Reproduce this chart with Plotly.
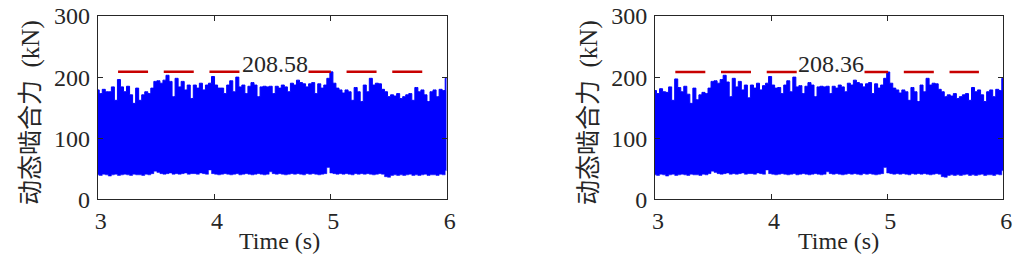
import numpy as np
import plotly.graph_objects as go

# ---------------- data ----------------
T_START, T_END = 3.0, 6.0
X_TICKS = [3, 4, 5, 6]
Y_TICKS = [0, 100, 200, 300]

# upper envelope (local peaks) of the dynamic meshing force, kN
PEAKS_L = [179, 173, 180, 176, 176, 184, 162, 196, 184, 176, 185, 171, 157, 182, 162, 171, 176, 173, 182, 193,
           194, 190, 195, 203, 193, 168, 198, 184, 193, 179, 187, 165, 187, 182, 190, 179, 187, 190, 201,
           187, 182, 182, 173, 187, 194, 176, 200, 184, 187, 173, 185, 191, 187, 168, 184, 185, 184, 185, 173,
           185, 182, 187, 184, 176, 190, 187, 195, 191, 189, 184, 189, 191, 173, 189, 182, 187, 198, 208.58,
           190, 182, 179, 174, 179, 176, 162, 183, 176, 160, 187, 176, 198, 187, 190, 189, 180, 176, 168, 171,
           169, 173, 165, 168, 171, 173, 162, 183, 176, 179, 171, 160, 176, 179, 168, 180, 178, 198]
# lower envelope (local troughs), kN
TROUGHS_L = [40, 39, 41, 40, 38, 40, 41, 39, 40, 41, 40, 39, 41, 40, 40, 39, 41, 40, 42, 46,
             44, 42, 41, 42, 43, 41, 42, 41, 42, 43, 41, 42, 42, 41, 43, 42, 41, 48,
             42, 41, 40, 41, 42, 41, 40, 41, 42, 40, 41, 42, 41, 40, 41, 42, 41, 40, 41, 45,
             42, 41, 42, 41, 40, 41, 42, 41, 42, 41, 40, 42, 41, 42, 41, 40, 41, 42, 52,
             43, 42, 41, 42, 41, 42, 41, 40, 42, 41, 42, 41, 42, 41, 40, 41, 42, 41, 37,
             36, 39, 40, 39, 40, 39, 40, 41, 39, 40, 39, 40, 41, 39, 40, 40, 39, 41, 40, 47]

PEAKS_R = [178, 173, 181, 176, 175, 184, 162, 197, 183, 176, 185, 172, 157, 182, 163, 171, 175, 173, 182, 193,
           194, 190, 196, 203, 192, 168, 198, 184, 193, 179, 187, 166, 187, 182, 190, 179, 186, 190, 201,
           187, 182, 183, 173, 187, 194, 176, 200, 184, 186, 173, 185, 191, 187, 168, 184, 185, 184, 185, 173,
           185, 182, 187, 184, 176, 190, 187, 195, 191, 189, 184, 189, 191, 173, 189, 182, 187, 198, 208.36,
           190, 182, 179, 174, 179, 176, 162, 183, 176, 160, 187, 176, 198, 187, 190, 189, 180, 176, 168, 171,
           169, 173, 165, 168, 171, 173, 162, 183, 176, 179, 171, 160, 176, 179, 168, 180, 178, 198]
TROUGHS_R = [40, 39, 41, 40, 38, 40, 41, 39, 40, 41, 40, 39, 41, 40, 40, 39, 41, 40, 42, 46,
             44, 42, 41, 42, 43, 41, 42, 41, 42, 43, 41, 42, 42, 41, 43, 42, 41, 48,
             42, 41, 40, 41, 42, 41, 40, 41, 42, 40, 41, 42, 41, 40, 41, 42, 41, 40, 41, 45,
             42, 41, 42, 41, 40, 41, 42, 41, 42, 41, 40, 42, 41, 42, 41, 40, 41, 42, 52,
             43, 42, 41, 42, 41, 42, 41, 40, 42, 41, 42, 41, 42, 41, 40, 41, 42, 41, 37,
             36, 39, 40, 39, 40, 39, 40, 41, 39, 40, 39, 40, 41, 39, 40, 40, 39, 41, 40, 47]

MAX_L = 208.58
MAX_R = 208.36
MAX_LABELS = ["208.58", "208.36"]
MAX_LINE_T = [3.175, 5.79]   # extent of the dashed max line
MAX_LABEL_T = 4.52           # label centre

X_TITLE = "Time (s)"
Y_TITLE_CN = "动态啮合力"
Y_TITLE_UNIT = "(kN)"

# ---------------- figure ----------------
SERIF = "Liberation Serif"
CJK = "Noto Sans CJK SC"
TXT = "#262626"
BLUE = "#0000FF"
RED = "#C80000"
W, H = 1024, 263

y_title = (f"<span style='font-family:{CJK}'>{Y_TITLE_CN}</span>"
           f"<span style='font-family:{SERIF}'>\u00a0\u00a0{Y_TITLE_UNIT}</span>")

fig = go.Figure()
panels = [(PEAKS_L, TROUGHS_L, MAX_L, "x", "y", 28, 279),
          (PEAKS_R, TROUGHS_R, MAX_R, "x2", "y2", 586, 838)]
for i, (pk, tr, mx, xa, ya, ytitle_px, xtitle_px) in enumerate(panels):
    t = np.linspace(T_START, T_END, len(pk))
    fig.add_trace(go.Scatter(x=t, y=tr, mode="lines", line=dict(color=BLUE, width=0.5, shape="hvh"),
                             xaxis=xa, yaxis=ya, showlegend=False, hoverinfo="skip"))
    fig.add_trace(go.Scatter(x=t, y=pk, mode="lines", line=dict(color=BLUE, width=1, shape="hvh"),
                             fill="tonexty", fillcolor=BLUE,
                             xaxis=xa, yaxis=ya, showlegend=False, hoverinfo="skip"))
    fig.add_trace(go.Scatter(x=MAX_LINE_T, y=[mx, mx], mode="lines",
                             line=dict(color=RED, width=2.5, dash="30px,15.7px"),
                             xaxis=xa, yaxis=ya, showlegend=False, hoverinfo="skip"))
    fig.add_annotation(x=MAX_LABEL_T, y=mx, xref=xa, yref=ya, text=MAX_LABELS[i],
                       showarrow=False, yanchor="bottom", xanchor="center", yshift=-6,
                       bgcolor="white", borderpad=0,
                       font=dict(family=SERIF, size=24, color=TXT))
    # y-axis title (rotated)
    fig.add_annotation(x=ytitle_px / W, y=1 - 113 / H, xref="paper", yref="paper", text=y_title,
                       textangle=-90, showarrow=False, xanchor="center", yanchor="middle",
                       font=dict(family=SERIF, size=25, color=TXT))
    # x-axis title
    fig.add_annotation(x=xtitle_px / W, y=1 - 241 / H, xref="paper", yref="paper", text=X_TITLE,
                       showarrow=False, xanchor="center", yanchor="middle",
                       font=dict(family=SERIF, size=24, color=TXT))

axis_common = dict(showline=True, linecolor=TXT, linewidth=1, mirror="ticks",
                   ticks="inside", ticklen=5, tickcolor=TXT, tickwidth=1,
                   showgrid=False, zeroline=False, automargin=False,
                   tickfont=dict(family=SERIF, size=24, color=TXT))

Y_DOM = [1 - 199.3 / H, 1 - 16 / H]
fig.update_layout(
    width=W, height=H,
    margin=dict(l=0, r=0, t=0, b=0, autoexpand=False),
    paper_bgcolor="white", plot_bgcolor="white",
    xaxis=dict(domain=[97.7 / W, 446.7 / W], range=[T_START, T_END], tickvals=X_TICKS,
               ticklabelshift=3, anchor="y", **axis_common),
    yaxis=dict(domain=Y_DOM, range=[0, 300], tickvals=Y_TICKS, ticklabelstandoff=2,
               anchor="x", **axis_common),
    xaxis2=dict(domain=[655 / W, 1003.3 / W], range=[T_START, T_END], tickvals=X_TICKS,
                ticklabelshift=3, anchor="y2", **axis_common),
    yaxis2=dict(domain=Y_DOM, range=[0, 300], tickvals=Y_TICKS, ticklabelstandoff=2,
                anchor="x2", **axis_common),
)

fig.write_html("out.html")
